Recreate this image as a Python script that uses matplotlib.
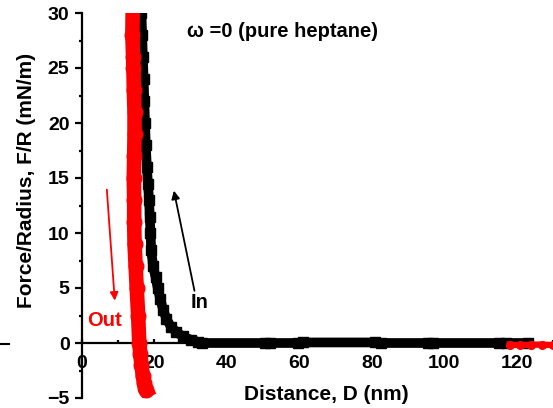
import numpy as np
import matplotlib
matplotlib.use("Agg")
import matplotlib.pyplot as plt
from matplotlib.lines import Line2D

plt.rcParams['font.family'] = ['Liberation Sans', 'DejaVu Sans']
plt.rcParams['font.weight'] = 'bold'

nan = np.nan
# Approach ("In") curve
in_x = [16.4, 16.6, 16.8, 17.0, 17.2, 17.4, 17.6, 17.9, 18.2, 18.5, 18.7, 18.9, 19.1, 19.6,
        20.3, 20.9, 21.6, 22.4, 23.3, 24.5, 26.0, 27.8, 30.0, 32.0, nan,
        33.0, 50.5, nan, 52.0, 59.5, nan, 61.0, 81.0, nan, 82.5, 95.5, nan, 97.0, 115.0, nan,
        117.0, 123.0]
in_y = [30.0, 28.0, 26.0, 24.0, 22.0, 20.0, 18.0, 16.0, 14.5, 13.0, 11.5, 10.0, 8.5, 7.0,
        6.0, 5.0, 4.0, 3.0, 2.2, 1.5, 1.0, 0.6, 0.3, 0.1, nan,
        0.0, 0.0, nan, 0.0, 0.0, nan, 0.05, 0.05, nan, 0.0, 0.0, nan, 0.0, 0.0, nan,
        0.0, 0.0]

# Separation ("Out") curve, contact part
out_x = [14.0, 13.9, 14.1, 14.2, 14.3, 14.5, 14.5, 14.4, 14.3, 14.4, 14.4, 14.5, 14.8, 15.1,
         15.5, 15.8, 16.1, 16.4, 16.8, 17.1, 17.5, 17.8]
out_y = [30.5, 28.0, 26.0, 25.0, 23.0, 21.0, 19.0, 17.0, 15.0, 13.0, 11.0, 9.0, 7.0, 5.0,
         2.5, 0.0, -1.0, -2.0, -3.0, -3.6, -4.1, -4.3]
# Separation curve after jump-out
out_far_x = [118.0, 121.0, 124.0, 127.0, 130.0]
out_far_y = [-0.15, -0.2, -0.15, -0.15, -0.2]

x_ticks = [0, 20, 40, 60, 80, 100, 120]
y_ticks = [-5, 0, 5, 10, 15, 20, 25, 30]

fig = plt.figure(figsize=(5.53, 4.08), dpi=100)
ax = fig.add_axes([82/553, 10/408, 1 - 82/553, 385/408])

ax.plot(in_x, in_y, color='black', lw=7.0, marker='s', ms=7.5, solid_capstyle='butt',
        zorder=3, clip_on=True)
ax.plot(out_x, out_y, color='red', lw=10.5, marker='o', ms=10.5, zorder=4, clip_on=True)
ax.plot(out_far_x, out_far_y, color='red', lw=4.5, marker='o', ms=5.5, zorder=4, clip_on=True)

ax.set_xlim(0, 130)
ax.set_ylim(-5, 30)
ax.spines['top'].set_visible(False)
ax.spines['right'].set_visible(False)
ax.spines['bottom'].set_position(('data', 0))
for s in ('left', 'bottom'):
    ax.spines[s].set_linewidth(1.6)

ax.set_xticks(x_ticks)
ax.set_yticks(y_ticks)
ax.set_xticks([10, 30, 50, 70, 90, 110, 130], minor=True)
ax.set_yticks([-2.5, 2.5, 7.5, 12.5, 17.5, 22.5, 27.5], minor=True)
ax.tick_params(axis='y', which='major', direction='out', length=5, width=1.6, pad=4, labelsize=14)
ax.tick_params(axis='y', which='minor', direction='out', length=2.5, width=1.6)
ax.tick_params(axis='x', which='major', direction='in', length=3, width=1.6, pad=9, labelsize=14)
ax.tick_params(axis='x', which='minor', direction='in', length=2.5, width=1.6)

fig.text(27/553, 1 - 180/408, 'Force/Radius, F/R (mN/m)', fontsize=15, fontweight='bold',
         rotation=90, ha='center', va='center')
fig.text(326/553, 1 - 395/408, 'Distance, D (nm)', fontsize=15, fontweight='bold',
         ha='center', va='center')

ax.text(29, 28.3, 'ω =0 (pure heptane)', fontsize=14.5, fontweight='bold', ha='left', va='center')
ax.annotate('', xy=(9.1, 3.6), xytext=(6.8, 14.2),
            arrowprops=dict(arrowstyle='-|>', color='red', lw=1.3, mutation_scale=12))
ax.annotate('', xy=(25.2, 14.1), xytext=(31.2, 4.5),
            arrowprops=dict(arrowstyle='-|>', color='black', lw=1.3, mutation_scale=12))
ax.text(6.2, 2.0, 'Out', color='red', fontsize=14.5, fontweight='bold', ha='center', va='center')
ax.text(32.5, 3.7, 'In', color='black', fontsize=14.5, fontweight='bold', ha='center', va='center')

fig.add_artist(Line2D([0, 9/553], [1 - 344/408, 1 - 344/408], color='black', lw=1.5))

fig.savefig('out.png', dpi=100)
